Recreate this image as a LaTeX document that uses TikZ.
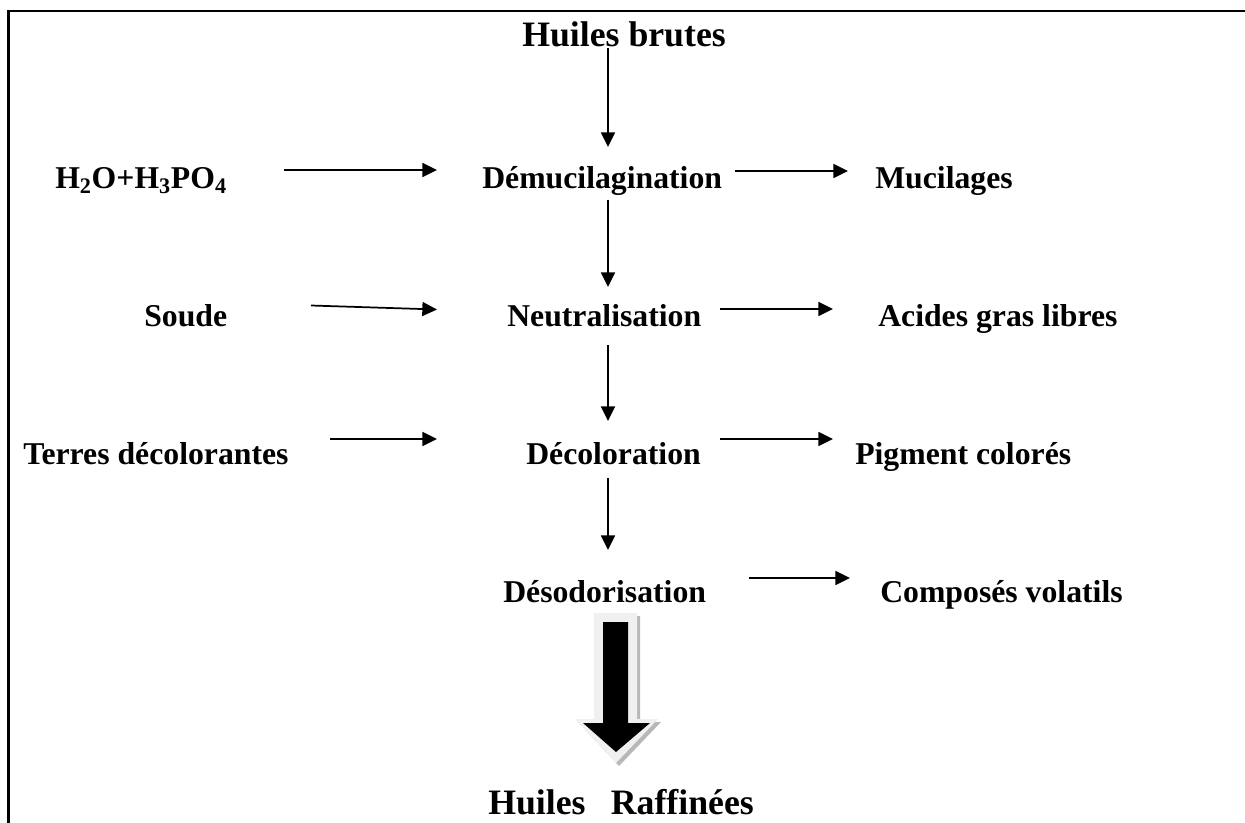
\documentclass[tikz,border=0pt]{standalone}
\usepackage{fontspec}
\setmainfont{Liberation Serif}
\usetikzlibrary{arrows.meta}
\begin{document}
\begin{tikzpicture}[x=0.75pt,y=-0.75pt,
  lbl/.style={anchor=base west,inner sep=0pt,font=\bfseries\fontsize{23.8}{28}\selectfont},
  ttl/.style={anchor=base west,inner sep=0pt,font=\bfseries\fontsize{26.8}{32}\selectfont},
  flow/.style={line width=1.3pt,-{Triangle[length=11pt,width=10.5pt]}},
  frame/.style={line width=1.9pt}]
\useasboundingbox (0,0) rectangle (1245,823);
% frame (top and left edges only)
\draw[frame] (8.5,823) -- (8.5,11) -- (1245,11);
% texts
\node[ttl] (brutes) at (522,47) {Huiles brutes};
\node[lbl] (h2o) at (55,189) {H\textsubscript{2}O+H\textsubscript{3}PO\textsubscript{4}};
\node[lbl] (demu) at (482,189) {Démucilagination};
\node[lbl] (muci) at (875,189) {Mucilages};
\node[lbl] (soude) at (144,327) {Soude};
\node[lbl] (neut) at (507,327) {Neutralisation};
\node[lbl] (acides) at (878,327) {Acides gras libres};
\node[lbl] (terres) at (23,464) {Terres décolorantes};
\node[lbl] (decol) at (526,464) {Décoloration};
\node[lbl] (pigm) at (855,464) {Pigment colorés};
\node[lbl] (desod) at (503,602) {Désodorisation};
\node[lbl] (comp) at (880,602) {Composés volatils};
\node[ttl] (raff) at (488,814) {Huiles\hspace*{19pt}Raffinées};
% connector ends
\coordinate (brutes-out) at (608,48);
\coordinate (demu-in) at (608,147);
\coordinate (h2o-out) at (284,170);
\coordinate (demu-inl) at (437,170);
\coordinate (demu-outr) at (735,171);
\coordinate (muci-in) at (848,171);
\coordinate (demu-out) at (608,200);
\coordinate (neut-in) at (608,287);
\coordinate (soude-out) at (311,305.5);
\coordinate (neut-inl) at (437,309.5);
\coordinate (neut-outr) at (720,309);
\coordinate (acides-in) at (833,309);
\coordinate (neut-out) at (608,345);
\coordinate (decol-in) at (608,421);
\coordinate (terres-out) at (330,439);
\coordinate (decol-inl) at (437,439);
\coordinate (decol-outr) at (720,439);
\coordinate (pigm-in) at (833,439);
\coordinate (decol-out) at (608,478);
\coordinate (desod-in) at (608,550);
\coordinate (desod-outr) at (749,578);
\coordinate (comp-in) at (850,578);
% connectors
\draw[flow] (brutes-out) -- (demu-in);
\draw[flow] (h2o-out) -- (demu-inl);
\draw[flow] (demu-outr) -- (muci-in);
\draw[flow] (demu-out) -- (neut-in);
\draw[flow] (soude-out) -- (neut-inl);
\draw[flow] (neut-outr) -- (acides-in);
\draw[flow] (neut-out) -- (decol-in);
\draw[flow] (terres-out) -- (decol-inl);
\draw[flow] (decol-outr) -- (pigm-in);
\draw[flow] (decol-out) -- (desod-in);
\draw[flow] (desod-outr) -- (comp-in);
% big block arrow from Désodorisation to Huiles Raffinées
\fill[black!28] (597,616) -- (640,616) -- (640,722) -- (661,722) -- (619,766) -- (578,722) -- (597,722) -- cycle;
\fill[black!6] (594,613) -- (637,613) -- (637,719) -- (658,719) -- (616,763) -- (575,719) -- (594,719) -- cycle;
\fill[black] (603,622) -- (628,622) -- (628,723) -- (650,723) -- (616,752) -- (583,723) -- (603,723) -- cycle;
\end{tikzpicture}
\end{document}
